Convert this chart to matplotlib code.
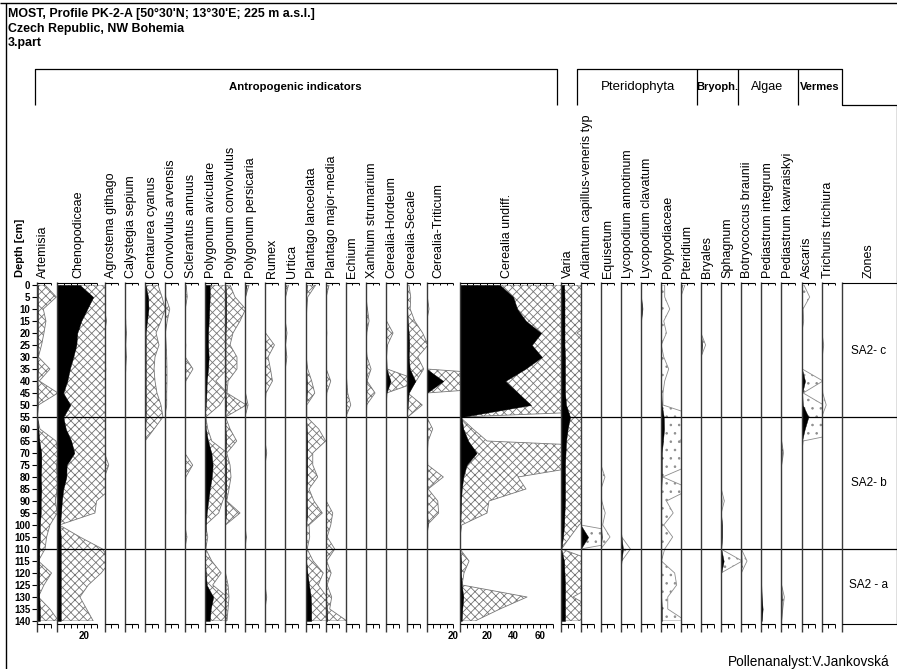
import matplotlib
matplotlib.use("Agg")
import matplotlib.pyplot as plt
from matplotlib.lines import Line2D
from matplotlib.patches import Rectangle

plt.rcParams['font.family'] = ['Liberation Sans', 'DejaVu Sans']
plt.rcParams['hatch.linewidth'] = 0.6

# ---------------------------------------------------------------- data (%)
depth = [0, 5, 10, 15, 20, 25, 30, 35, 40, 45, 50, 55, 60, 65, 70,
         75, 80, 85, 90, 95, 100, 105, 110, 115, 120, 125, 130, 135, 140]

artemisia_black = [0.4, 0.4, 0.4, 0.4, 0.4, 0.4, 0.2, 0.4, 0.2, 0.4, 0.2, 0, 0.8, 1.5, 3,
                   3, 2.6, 3, 2.6, 2.6, 1.9, 1.9, 1.5, 1.5, 1.5, 1.5, 1.5, 1.9, 1.9]
artemisia_exag = [5.8, 14.3, 4.5, 6.5, 5, 3.2, 0.8, 9.5, 1.5, 15.5, 0.8, 0, 2, 14, 16,
                  14.5, 15, 15, 13.5, 15, 9.5, 7, 5.8, 0.8, 10.7, 5, 0.8, 9.5, 16]

chenopodiceae_black = [17, 27, 22.5, 18, 15, 14.3, 12, 9.4, 7.5, 4.5, 9.8, 4.5, 6.4, 10.5, 12.8,
                       7, 6.8, 4.5, 3.4, 2.8, 2, 2.6, 2.6, 2.6, 2.6, 2.6, 2.6, 2.6, 2.6]
chenopodiceae_exag = [40, 40, 40, 40, 40, 40, 40, 40, 40, 40, 40, 40, 40, 40, 40,
                      40, 40, 40, 29.5, 28.3, 1.5, 17, 34, 40, 33, 23.3, 17, 22, 27]

agrostema_black = [0, 0, 0, 0.2, 0, 0, 0, 0.2, 0, 0, 0, 0, 0, 0, 0,
                   0.4, 0, 0, 0, 0, 0, 0, 0, 0, 0, 0, 0, 0, 0]
agrostema_exag = [0, 0, 0, 1.5, 0, 0, 0, 1, 0, 0, 0, 0, 0, 0, 0,
                  3.2, 0, 0, 0, 0, 0, 0, 0, 0, 0, 0, 0, 0, 0]

calystegia_black = [0, 0, 0, 0.3, 0.3, 0.3, 0.3, 0.3, 0, 0, 0, 0, 0, 0, 0,
                    0, 0, 0, 0, 0, 0, 0, 0, 0, 0, 0, 0, 0, 0]
calystegia_exag = [0, 0, 0, 0.3, 1, 0.4, 1, 0.3, 0, 0, 0, 0, 0, 0, 0,
                   0, 0, 0, 0, 0, 0, 0, 0, 0, 0, 0, 0, 0, 0]

centaurea_black = [0.4, 2.3, 2.6, 1.5, 0.5, 0.5, 0.5, 0.5, 0.5, 0.5, 0.5, 0.5, 0.2, 0, 0,
                   0, 0, 0, 0, 0, 0, 0, 0, 0, 0, 0, 0, 0, 0]
centaurea_exag = [9.8, 12.8, 15.2, 12, 8.3, 10.5, 7.5, 6.8, 7.5, 9, 12, 13.5, 6.8, 0, 0,
                  0, 0, 0, 0, 0, 0, 0, 0, 0, 0, 0, 0, 0, 0]

convolvulus_black = [0, 0.3, 0.3, 0.3, 0.3, 0.3, 0.3, 0.3, 0.3, 0.3, 0.3, 0, 0, 0, 0,
                     0, 0, 0, 0, 0, 0, 0, 0, 0, 0, 0, 0, 0, 0]
convolvulus_exag = [0, 0.8, 3.8, 1.9, 0.5, 1.1, 1.5, 1.7, 1.7, 1.5, 1.5, 0, 0, 0, 0,
                    0, 0, 0, 0, 0, 0, 0, 0, 0, 0, 0, 0, 0, 0]

sclerantus_black = [0.3, 0.4, 0.3, 0.3, 0, 0.4, 0.3, 0.5, 0.3, 0, 0, 0, 0, 0, 0,
                    0.4, 0.2, 0, 0.3, 0.4, 0, 0.4, 0, 0, 0, 0, 0, 0, 0]
sclerantus_exag = [1.1, 1.9, 0.4, 0.4, 0, 0.8, 0.4, 6.2, 0.8, 0, 0, 0, 0, 0, 0,
                   6, 0.8, 0, 0.8, 0.8, 0, 1.7, 0, 0, 0, 0, 0, 0, 0]

pol_aviculare_black = [3.8, 3.8, 3.4, 3, 2.5, 2.5, 3, 2.5, 1.5, 1.3, 0.8, 0.2, 0.8, 2.5, 5,
                       6, 5.3, 3.8, 2.6, 1.5, 0.8, 0.5, 0.2, 0.2, 0.8, 1.5, 6.4, 4.5, 3.8]
pol_aviculare_exag = [17, 17, 17, 17, 17, 17, 17, 17, 8.3, 17, 11.3, 0.8, 2.3, 5.3, 17,
                      17, 17, 17, 13.5, 10.5, 0.6, 2.3, 0.8, 5.3, 12.4, 6, 17, 17, 17]

pol_convolvulus_black = [0.4, 0.8, 0.8, 0.8, 0.4, 0.4, 0.4, 0.4, 0.4, 0.4, 0.8, 0.2, 0.4, 0.8, 0.4,
                         0.8, 0.8, 0.8, 0.4, 0.8, 0, 0, 0, 0, 0.2, 0.4, 0.4, 0.4, 0.4]
pol_convolvulus_exag = [3.8, 7.5, 15.5, 11.3, 6, 3.8, 9, 9, 2.3, 1.5, 16, 0.4, 3.8, 8.8, 1.3,
                        3.8, 4.5, 3, 1.3, 11.3, 0.4, 0, 0, 0.4, 0.4, 2.3, 3, 2.3, 1.5]

pol_persicaria_black = [0.8, 0.2, 0.2, 0.2, 0.2, 0.2, 0.2, 0.2, 0.2, 0.2, 0.4, 0, 0, 0, 0,
                        0, 0, 0, 0, 0, 0, 0.3, 0, 0, 0, 0, 0, 0, 0]
pol_persicaria_exag = [3, 0.4, 0.2, 0.2, 0.2, 0.2, 0.4, 0.2, 0.2, 0.4, 2.3, 0, 0, 0, 0,
                       0, 0, 0, 0, 0, 0, 1, 0, 0, 0, 0, 0, 0, 0]

rumex_black = [0, 0, 0, 0, 0.2, 0.3, 0.2, 0.2, 0.3, 0.2, 0, 0, 0, 0, 0.3,
               0, 0, 0, 0, 0, 0, 0, 0, 0, 0, 0, 0.3, 0, 0]
rumex_exag = [0, 0, 0, 0, 0.4, 7.1, 2.3, 4.1, 5.6, 0.8, 0, 0, 0, 0, 1.3,
              0, 0, 0, 0, 0, 0, 0, 0, 0, 0, 0, 1.3, 0, 0]

urtica_black = [0.4, 0.2, 0.2, 0.2, 0.3, 0.2, 0.3, 0.2, 0, 0, 0, 0, 0, 0, 0,
                0, 0, 0, 0, 0, 0, 0, 0, 0, 0, 0, 0, 0, 0]
urtica_exag = [2.6, 0.4, 0.4, 0.2, 1.5, 0.4, 1.4, 0.2, 0, 0, 0, 0, 0, 0, 0,
               0, 0, 0, 0, 0, 0, 0, 0, 0, 0, 0, 0, 0, 0]

plantago_lanc_black = [0.8, 0.4, 0.4, 0.4, 0.4, 0.4, 0.4, 0.4, 0.8, 0.8, 0.4, 0.2, 0.8, 1.1, 1.1,
                       1.1, 1.1, 0.8, 0.8, 1.1, 0.4, 0.4, 0.2, 0.4, 1.3, 2.5, 3.8, 4.1, 4.1]
plantago_lanc_exag = [7.5, 1.5, 0.8, 0.4, 0.4, 0.4, 0.4, 1.5, 4.5, 6.8, 0.8, 0.8, 9.8, 15, 5.3,
                      5.3, 9, 2.5, 6.2, 12.5, 2.5, 3, 1.1, 5.6, 13.2, 9.4, 16, 16, 16]

plantago_maj_black = [0.4, 0.2, 0.2, 0.2, 0.2, 0.2, 0.2, 0.2, 0.4, 0.2, 0.2, 0, 0, 0, 0,
                      0, 0, 0, 0.2, 0.4, 0.3, 0.2, 0.4, 0.2, 0.3, 0.2, 0.4, 0.8, 1.1]
plantago_maj_exag = [2.5, 0.4, 0.4, 0.4, 0.8, 0.4, 0.4, 0.4, 3.8, 0.8, 0.4, 0, 0, 0, 0,
                     0, 0, 0, 0.4, 5.3, 3.8, 1.1, 6.8, 0.8, 4.1, 1.1, 4.5, 3, 16]

echium_black = [0, 0, 0, 0, 0, 0, 0, 0, 0.2, 0.3, 0.4, 0, 0, 0, 0,
                0, 0, 0, 0, 0, 0, 0, 0, 0, 0, 0, 0, 0, 0]
echium_exag = [0, 0, 0, 0, 0, 0, 0, 0.2, 0.8, 1.5, 3.8, 0, 0, 0, 0,
               0, 0, 0, 0, 0, 0, 0, 0, 0, 0, 0, 0, 0, 0]

xanhium_black = [0, 0, 0.3, 0.3, 0.3, 0, 0.3, 0.3, 0.3, 0.3, 0.3, 0, 0, 0, 0,
                 0, 0, 0, 0, 0, 0, 0, 0, 0, 0, 0, 0, 0, 0]
xanhium_exag = [0, 0, 1.1, 2.3, 0.4, 0, 0.8, 3.8, 0.8, 6.8, 0.4, 0, 0, 0, 0,
                0, 0, 0, 0, 0, 0, 0, 0, 0, 0, 0, 0, 0, 0]

hordeum_black = [0, 0, 0, 0.2, 0.3, 0.2, 0.2, 0.4, 3.4, 0.4, 0, 0, 0, 0, 0,
                 0, 0, 0, 0, 0, 0, 0, 0, 0, 0, 0, 0, 0, 0]
hordeum_exag = [0, 0, 0, 0.4, 5.3, 1.1, 0.4, 0.8, 26, 0.4, 0, 0, 0, 0, 0,
                0, 0, 0, 0, 0, 0, 0, 0, 0, 0, 0, 0, 0, 0]

secale_black = [0.3, 0.4, 0.4, 0.8, 1.5, 1.9, 1.5, 2.3, 6.5, 1.5, 0.8, 0.2, 0, 0, 0,
                0, 0, 0, 0, 0, 0, 0, 0, 0, 0, 0, 0, 0, 0]
secale_exag = [1.7, 3, 2.6, 6, 12, 16, 8.3, 12.8, 7.1, 0.8, 11.7, 0.8, 0, 0, 0,
               0, 0, 0, 0, 0, 0, 0, 0, 0, 0, 0, 0, 0, 0]

triticum_black = [0, 0.2, 0.4, 0, 0, 0, 0, 0, 12.5, 0, 0, 0, 0.3, 0, 0,
                  0, 0.4, 0, 0.3, 0.4, 0.8, 0, 0, 0, 0, 0, 0, 0, 0]
triticum_exag = [0, 0.5, 1.7, 0, 0, 0, 0, 0, 125, 0, 0, 0, 4.5, 1.1, 0.4,
                 0.8, 12.5, 1.1, 8.3, 9, 0.4, 0, 0, 0, 0, 0, 0, 0, 0]

cerealia_black = [30, 40, 43, 49.6, 61, 54, 61.6, 49, 34, 43.6, 53.4, 1.1, 2.5, 6.2, 12.5,
                  5, 2.5, 1.3, 0.8, 0.5, 0.2, 0, 0, 0.8, 0.8, 1.3, 2.5, 1.7, 1.3]
cerealia_exag = [225, 225, 225, 225, 225, 225, 225, 225, 225, 225, 225, 0, 9.8, 20.3, 225,
                 98, 43.6, 49.6, 21.8, 20.3, 1.3, 0, 0, 6.8, 3, 1.5, 50.4, 30, 11.3]

varia_black = [2.3, 2.6, 2.6, 2.6, 2.6, 2.6, 3, 3, 3, 3, 3.8, 6.8, 5, 3.8, 3.4,
               3, 3, 3, 3, 2.6, 2.3, 1.5, 0.2, 2.3, 2.6, 3, 3, 3, 3]
varia_exag = [25, 25, 25, 25, 12, 25, 25, 25, 25, 25, 25, 25, 25, 25, 25,
              25, 25, 25, 25, 25, 13.5, 6.8, 0.4, 25, 25, 25, 9, 25, 25]

adiantum_black = [0, 0, 0, 0, 0, 0, 0, 0, 0, 0, 0, 0, 0, 0, 0,
                  0, 0, 0, 0, 0, 0, 5.6, 0, 0, 0, 0, 0, 0, 0]
adiantum_exag = [0, 0, 0, 0, 0, 0, 0, 0, 0, 0, 0, 0, 0, 0, 0,
                 0, 0, 0, 0, 0, 0, 50, 0, 0, 0, 0, 0, 0, 0]

equisetum_black = [0, 0, 0, 0, 0, 0, 0, 0, 0, 0, 0, 0, 0, 0, 0,
                   0, 0.2, 0, 0, 0.2, 0.3, 0.8, 0, 0, 0, 0, 0, 0, 0]
equisetum_exag = [0, 0, 0, 0, 0, 0, 0, 0, 0, 0, 0, 0, 0, 0, 0,
                  0.2, 3.2, 0.2, 0.8, 3.4, 1.5, 7, 0, 0, 0, 0, 0, 0, 0]

lyc_annotinum_black = [0, 0, 0, 0, 0, 0, 0, 0, 0, 0, 0, 0, 0, 0, 0,
                       0, 0, 0, 0, 0, 0, 0.6, 1.7, 0.6, 0, 0, 0, 0, 0]
lyc_annotinum_exag = [0, 0, 0, 0, 0, 0, 0, 0, 0, 0, 0, 0, 0, 0, 0,
                      0, 0, 0, 0, 0, 0.2, 0.8, 7.3, 0.8, 0, 0, 0, 0, 0]

lyc_clavatum_black = [0, 0.4, 1, 0.4, 0, 0, 0, 0, 0, 0, 0, 0, 0, 0, 0,
                      0, 0, 0, 0, 0, 0, 0, 0, 0, 0, 0, 0, 0, 0]
lyc_clavatum_exag = [0, 0.3, 1.7, 0.3, 0, 0, 0, 0, 0, 0, 0, 0, 0, 0, 0,
                     0, 0, 0, 0, 0, 0, 0, 0, 0, 0, 0, 0, 0, 0]

polypodiaceae_black = [0.5, 0.5, 0.5, 0.4, 0.4, 0.4, 0.4, 0.4, 0.4, 0.4, 0.8, 2.3, 2.5, 1.7, 0.8,
                       0.8, 0.8, 0.5, 0.5, 0.5, 0.5, 0.5, 0.5, 0.5, 0.5, 0.5, 0.5, 0.8, 0.8]
polypodiaceae_exag = [3, 3, 6.8, 2.3, 4.3, 0.4, 2.3, 6, 3, 1.7, 1.7, 29, 22.5, 14.3, 22.5,
                      22.5, 1.5, 22.5, 4.3, 9.4, 2.3, 9, 3, 0.5, 10.5, 12, 5.3, 5.3, 19]

pteridium_black = [0.8, 0, 0, 0, 0, 0, 0, 0, 0, 0, 0, 0, 0, 0, 0,
                   0, 0, 0, 0, 0, 0, 0, 0, 0, 0, 0, 0, 0, 0]
pteridium_exag = [3.2, 0, 0, 0, 0, 0, 0, 0, 0, 0, 0, 0, 0, 0, 0,
                  0, 0, 0, 0, 0, 0, 0, 0, 0, 0, 0, 0, 0, 0]

bryales_black = [0, 0, 0, 0, 0.3, 1, 0.3, 0, 0, 0, 0, 0, 0, 0, 0,
                 0, 0, 0, 0, 0, 0, 0, 0, 0, 0, 0, 0, 0, 0]
bryales_exag = [0, 0, 0, 0, 0.2, 3.7, 0.2, 0, 0, 0, 0, 0, 0, 0, 0,
                0, 0, 0, 0, 0, 0, 0, 0, 0, 0, 0, 0, 0, 0]

sphagnum_black = [0, 0, 0, 0, 0, 0, 0, 0, 0, 0, 0, 0, 0, 0, 0,
                  0, 0, 0, 0.4, 0, 0.8, 0.8, 0.2, 2, 0.2, 0, 0, 0, 0]
sphagnum_exag = [0, 0, 0, 0, 0, 0, 0, 0, 0, 0, 0, 0, 0, 0, 0,
                 0, 0, 0.2, 2.5, 0.2, 0.4, 0.4, 0, 16, 0, 0, 0, 0, 0]

botryococcus_black = [0, 0, 0, 0, 0, 0, 0, 0, 0, 0, 0, 0, 0, 0, 0,
                      0, 0, 0, 0, 0, 0, 0, 0, 0.2, 0, 0, 0, 0, 0]
botryococcus_exag = [0, 0, 0, 0, 0, 0, 0, 0, 0, 0, 0, 0, 0, 0, 0,
                     0, 0, 0, 0, 0, 0, 0, 0, 4.3, 0, 0, 0, 0, 0]

ped_integrum_black = [0, 0, 0, 0, 0, 0, 0, 0, 0, 0, 0, 0, 0, 0, 0,
                      0, 0, 0, 0, 0, 0, 0, 0, 0, 0, 0, 0.3, 1, 0.3]
ped_integrum_exag = [0, 0, 0, 0, 0, 0, 0, 0, 0, 0, 0, 0, 0, 0, 0,
                     0, 0, 0, 0, 0, 0, 0, 0, 0, 0, 0, 0.3, 1, 0.3]

ped_kawraiskyi_black = [0, 0, 0, 0, 0, 0, 0, 0, 0, 0, 0, 0, 0, 0, 0.3,
                        0, 0, 0, 0, 0, 0, 0, 0, 0, 0, 0, 0.3, 0.2, 0]
ped_kawraiskyi_exag = [0, 0, 0, 0, 0, 0, 0, 0, 0, 0, 0, 0, 0, 0.2, 1.7,
                       0.2, 0, 0, 0, 0, 0, 0, 0, 0, 0, 0.2, 2.3, 1.1, 0.2]

ascaris_black = [0.4, 0.4, 0.3, 0.3, 0, 0, 0, 0.2, 2.5, 0.4, 0.8, 5, 2.3, 0.2, 0,
                 0, 0, 0, 0, 0, 0, 0, 0, 0, 0, 0, 0, 0, 0]
ascaris_exag = [1.7, 6, 1, 1.5, 0, 0, 0, 0.4, 16, 1.1, 16.5, 30, 45, 1.1, 0,
                0, 0, 0, 0, 0, 0, 0, 0, 0, 0, 0, 0, 0, 0]

trichuris_black = [0, 0, 0, 0, 0.2, 0.2, 0.2, 0.2, 0.2, 0.2, 0.2, 0, 0, 0, 0,
                   0, 0, 0, 0, 0, 0, 0, 0, 0, 0, 0, 0, 0, 0]
trichuris_exag = [0, 0, 0, 0, 0.2, 1.5, 0.4, 0.2, 0.2, 0.8, 3.4, 0, 0, 0, 0,
                  0, 0, 0, 0, 0, 0, 0, 0, 0, 0, 0, 0, 0, 0]

zone_bounds = [55, 110]
zone_names = ["SA2- c", "SA2- b", "SA2 - a"]
zone_mid = [27.5, 82.5, 125]
depth_ticks = depth

# ---------------------------------------------------------------- layout
W, H = 897, 669
fig = plt.figure(figsize=(W / 100, H / 100), dpi=100)
fig.patch.set_facecolor("white")


def fx(x):
    return x / W


def fy(y):
    return 1 - y / H


def fline(xs, ys, color="black", lw=0.9):
    fig.add_artist(Line2D([fx(v) for v in xs], [fy(v) for v in ys],
                          color=color, lw=lw, solid_capstyle="butt"))


Y_TOP, Y_BOT = 285, 621            # depth 0 and depth 140
PX_PER_PCT = 1.33

# name, left edge, label centre, black series, exaggerated series, fill style
columns = [
    ("Artemisia", 37.3, 43.3, artemisia_black, artemisia_exag, "x"),
    ("Chenopodiceae", 57.3, 78.3, chenopodiceae_black, chenopodiceae_exag, "x"),
    ("Agrostema githago", 104.5, 110.7, agrostema_black, agrostema_exag, "x"),
    ("Calystegia sepium", 125.0, 131.0, calystegia_black, calystegia_exag, "x"),
    ("Centaurea cyanus", 145.0, 151.7, centaurea_black, centaurea_exag, "x"),
    ("Convolvulus arvensis", 164.7, 170.7, convolvulus_black, convolvulus_exag, "x"),
    ("Sclerantus annuus", 184.7, 190.7, sclerantus_black, sclerantus_exag, "x"),
    ("Polygonum aviculare", 204.7, 210.7, pol_aviculare_black, pol_aviculare_exag, "x"),
    ("Polygonum convolvulus", 225.0, 231.0, pol_convolvulus_black, pol_convolvulus_exag, "x"),
    ("Polygonum persicaria", 245.0, 250.7, pol_persicaria_black, pol_persicaria_exag, "x"),
    ("Rumex", 265.0, 271.7, rumex_black, rumex_exag, "x"),
    ("Urtica", 285.0, 291.7, urtica_black, urtica_exag, "x"),
    ("Plantago lanceolata", 305.7, 311.7, plantago_lanc_black, plantago_lanc_exag, "x"),
    ("Plantago major-media", 325.7, 331.7, plantago_maj_black, plantago_maj_exag, "x"),
    ("Echium", 345.7, 351.7, echium_black, echium_exag, "x"),
    ("Xanhium strumarium", 366.0, 371.7, xanhium_black, xanhium_exag, "x"),
    ("Cerealia-Hordeum", 386.0, 391.7, hordeum_black, hordeum_exag, "x"),
    ("Cerealia-Secale", 406.7, 411.7, secale_black, secale_exag, "x"),
    ("Cerealia-Triticum", 426.7, 438.3, triticum_black, triticum_exag, "x"),
    ("Cerealia undiff.", 460.0, 506.7, cerealia_black, cerealia_exag, "x"),
    ("Varia", 561.0, 567.7, varia_black, varia_exag, "x"),
    ("Adiantum capillus-veneris typ", 580.7, 586.7, adiantum_black, adiantum_exag, "."),
    ("Equisetum", 600.7, 607.7, equisetum_black, equisetum_exag, "."),
    ("Lycopodium annotinum", 620.7, 627.7, lyc_annotinum_black, lyc_annotinum_exag, "."),
    ("Lycopodium clavatum", 640.7, 647.3, lyc_clavatum_black, lyc_clavatum_exag, "."),
    ("Polypodiaceae", 660.7, 667.7, polypodiaceae_black, polypodiaceae_exag, "."),
    ("Pteridium", 680.7, 687.3, pteridium_black, pteridium_exag, "."),
    ("Bryales", 700.7, 706.7, bryales_black, bryales_exag, "."),
    ("Sphagnum", 721.0, 727.3, sphagnum_black, sphagnum_exag, "."),
    ("Botryococcus braunii", 741.3, 747.3, botryococcus_black, botryococcus_exag, "."),
    ("Pediastrum integrum", 761.3, 768.3, ped_integrum_black, ped_integrum_exag, "."),
    ("Pediastrum kawraiskyi", 781.3, 788.3, ped_kawraiskyi_black, ped_kawraiskyi_exag, "."),
    ("Ascaris", 801.7, 806.7, ascaris_black, ascaris_exag, "."),
    ("Trichuris trichiura", 821.7, 827.7, trichuris_black, trichuris_exag, "."),
]
ZONES_LEFT, RIGHT = 842.0, 896.5

scale_labels = {"Chenopodiceae": [20], "Cerealia-Triticum": [20],
                "Cerealia undiff.": [20, 40, 60]}

for i, (name, left, lab_x, black, exag, style) in enumerate(columns):
    right = columns[i + 1][1] if i + 1 < len(columns) else ZONES_LEFT
    width_px = right - left
    xmax = width_px / PX_PER_PCT
    ax = fig.add_axes([fx(left), fy(Y_BOT), (right - left) / W, (Y_BOT - Y_TOP) / H])
    ax.set_xlim(0, xmax)
    ax.set_ylim(140, 0)
    ax.axis("off")
    clip = Rectangle((0, 0), 1, 1, transform=ax.transAxes)
    if style == "x":
        poly = ax.fill_betweenx(depth, 0, exag, facecolor="white", edgecolor="#767676",
                                hatch="xxxx", lw=0.6)
    else:
        poly = ax.fill_betweenx(depth, 0, exag, facecolor="white", edgecolor="#8c8c8c",
                                hatch="..", lw=0.6)
    poly.set_clip_path(clip)
    solid = ax.fill_betweenx(depth, 0, black, facecolor="black", edgecolor="black", lw=0.3)
    solid.set_clip_path(clip)

    # column base line, top and bottom scales
    fline([left, left], [282, 632], color="#3a3a3a", lw=1.0)
    nt = int((xmax - 2.5) // 5)
    end = left + nt * 5 * PX_PER_PCT
    fline([left, end], [283, 283], lw=0.8)
    fline([left, end], [624, 624], lw=0.8)
    for k in range(1, nt + 1):
        tx = left + k * 5 * PX_PER_PCT
        fline([tx, tx], [283, 285.5], lw=0.7)
        fline([tx, tx], [624, 627.5], lw=0.7)

    for v in scale_labels.get(name, []):
        fig.text(fx(left + v * PX_PER_PCT), fy(636), str(v), ha="center", va="center",
                 fontsize=7, fontweight="bold")

    fig.text(fx(lab_x), fy(278), name, rotation=90, ha="center", va="bottom",
             fontsize=9)

# depth axis and zone boundaries
axd = fig.add_axes([fx(37.3), fy(Y_BOT), (RIGHT - 37.3) / W, (Y_BOT - Y_TOP) / H])
axd.set_xlim(0, 1)
axd.set_ylim(140, 0)
axd.patch.set_visible(False)
for s in axd.spines.values():
    s.set_visible(False)
axd.set_xticks([])
axd.set_yticks(depth_ticks)
axd.set_yticklabels([str(d) for d in depth_ticks], fontsize=7, fontweight="bold")
axd.tick_params(axis="y", length=3.5, width=0.8, pad=1.5)
for zb in zone_bounds:
    axd.axhline(zb, color="black", lw=0.9)
for zname, zm in zip(zone_names, zone_mid):
    axd.text((868.5 - 37.3) / (RIGHT - 37.3), zm, zname, ha="center", va="center",
             fontsize=8.5)

fig.text(fx(20), fy(248), "Depth [cm]", rotation=90, ha="center", va="center",
         fontsize=8, fontweight="bold")

# zones column frame
fline([ZONES_LEFT, ZONES_LEFT], [282, 632], color="#3a3a3a", lw=1.0)
fline([ZONES_LEFT, RIGHT], [283, 283], lw=0.8)
fline([ZONES_LEFT, RIGHT], [624, 624], lw=0.8)
fig.text(fx(868.5), fy(278), "Zones", rotation=90, ha="center", va="bottom", fontsize=9)

# group header boxes
fline([35, 35, 557, 557], [105, 69, 69, 105])
fig.text(fx(295), fy(87), "Antropogenic indicators", ha="center", va="center",
         fontsize=8.2, fontweight="bold")
fline([577, 577, 842, 842, RIGHT, RIGHT], [105, 69, 69, 105, 105, 624])
for xd in (697, 738, 798):
    fline([xd, xd], [69, 105])
fig.text(fx(638), fy(87), "Pteridophyta", ha="center", va="center", fontsize=9.5)
fig.text(fx(717.5), fy(87), "Bryoph.", ha="center", va="center", fontsize=8,
         fontweight="bold")
fig.text(fx(767.5), fy(87), "Algae", ha="center", va="center", fontsize=9)
fig.text(fx(819.5), fy(87), "Vermes", ha="center", va="center", fontsize=8,
         fontweight="bold")

# page frame and titles
fline([0, W], [2.5, 2.5], lw=1.0)
fline([5.5, 5.5], [2.5, H], lw=1.0)
fig.text(fx(8), fy(14), "MOST, Profile PK-2-A [50°30'N; 13°30'E; 225 m a.s.l.]",
         ha="left", va="center", fontsize=8.9, fontweight="bold")
fig.text(fx(8), fy(29), "Czech Republic, NW Bohemia", ha="left", va="center",
         fontsize=8.9, fontweight="bold")
fig.text(fx(8), fy(43), "3.part", ha="left", va="center", fontsize=8.9,
         fontweight="bold")
fig.text(fx(890), fy(662), "Pollenanalyst:V.Jankovská", ha="right", va="center",
         fontsize=9.8)

fig.savefig("out.png", dpi=100, facecolor="white")
